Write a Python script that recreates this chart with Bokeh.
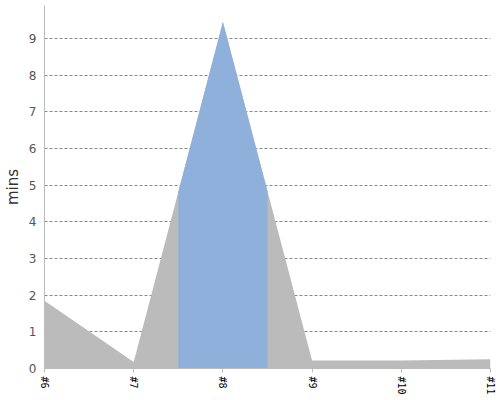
import numpy as np
from bokeh.plotting import figure
from bokeh.models import Range1d, FixedTicker
from bokeh.embed import file_html
from bokeh.resources import INLINE

categories = ["#6", "#7", "#8", "#9", "#10", "#11"]
values = [1.85, 0.18, 9.45, 0.22, 0.22, 0.25]
highlight_index = 2
y_ticks = [0, 1, 2, 3, 4, 5, 6, 7, 8, 9]

x = np.arange(len(categories), dtype=float)
y = np.array(values)

p = figure(width=496, height=398, output_backend="svg", toolbar_location=None,
           x_range=Range1d(0, len(categories) - 1), y_range=Range1d(0, 9.9),
           min_border_left=42, min_border_right=6, min_border_top=5, min_border_bottom=30)
p.outline_line_color = None
p.background_fill_color = "white"
p.border_fill_color = "white"

# grey area
p.varea(x=x, y1=0, y2=y, fill_color="#bbbbbb", fill_alpha=1)

# blue highlighted band around the selected category
lo, hi = highlight_index - 0.5, highlight_index + 0.5
xs = np.concatenate([[lo], x[(x > lo) & (x < hi)], [hi]])
ys = np.interp(xs, x, y)
p.varea(x=xs, y1=0, y2=ys, fill_color="#8fb0da", fill_alpha=1)

# axes
p.xaxis.ticker = FixedTicker(ticks=list(x))
p.xaxis.major_label_overrides = {i: c for i, c in enumerate(categories)}
p.xaxis.major_label_orientation = "vertical"
p.xaxis.major_label_text_font = "DejaVu Sans Mono"
p.xaxis.major_label_text_font_size = "10px"
p.xaxis.major_label_text_color = "#000000"
p.xaxis.axis_line_color = "#bbbbbb"
p.xaxis.major_tick_line_color = "#bbbbbb"
p.xaxis.major_tick_out = 4
p.xaxis.major_tick_in = 0
p.xaxis.minor_tick_line_color = None
p.xaxis.minor_tick_out = 0
p.xaxis.major_label_standoff = 4

p.yaxis.ticker = FixedTicker(ticks=y_ticks)
p.yaxis.axis_label = "mins"
p.yaxis.axis_label_text_font = "DejaVu Sans"
p.yaxis.axis_label_text_font_style = "normal"
p.yaxis.axis_label_text_font_size = "15px"
p.yaxis.axis_label_text_color = "#333333"
p.yaxis.axis_label_standoff = 4
p.yaxis.major_label_text_font = "DejaVu Sans"
p.yaxis.major_label_text_font_size = "12px"
p.yaxis.major_label_text_color = "#555555"
p.yaxis.axis_line_color = "#bbbbbb"
p.yaxis.major_tick_line_color = None
p.yaxis.major_tick_out = 0
p.yaxis.major_tick_in = 0
p.yaxis.minor_tick_line_color = None
p.yaxis.minor_tick_out = 0
p.yaxis.major_label_standoff = 8

p.xgrid.grid_line_color = None
p.ygrid.grid_line_color = "#888888"
p.ygrid.grid_line_dash = "3 2"
p.ygrid.grid_line_width = 1

open("out.html", "w").write(file_html(p, INLINE))
